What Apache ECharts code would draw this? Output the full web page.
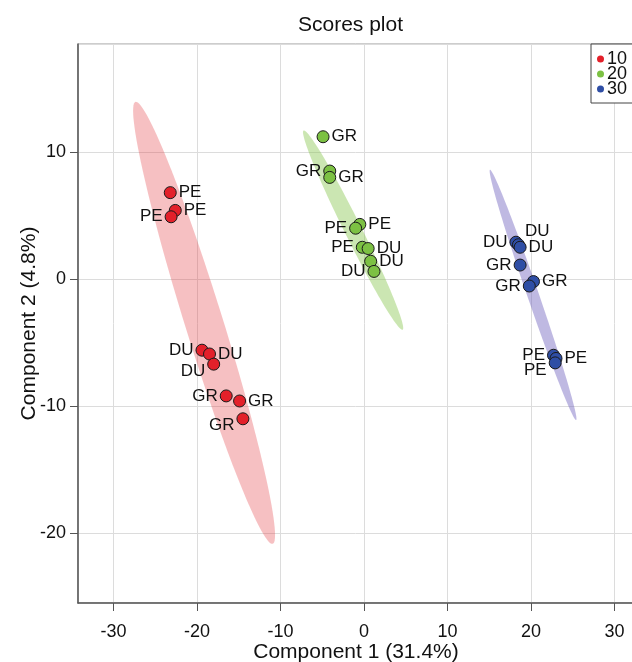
<!DOCTYPE html>
<html>
<head>
<meta charset="utf-8">
<script src="https://cdn.jsdelivr.net/npm/echarts@6/dist/echarts.min.js"></script>
<style>html,body{margin:0;padding:0;background:#fff}#c{width:632px;height:662px}</style>
</head>
<body>
<div id="c"></div>
<script>
// ---- data ----
const groups = ['10', '20', '30'];

const x10 = [-23.2, -22.6, -23.1, -19.4, -18.5, -18.0, -16.5, -14.9, -14.5];
const y10 = [6.8, 5.4, 4.9, -5.6, -5.9, -6.7, -9.2, -9.6, -11.0];
const names10 = ['PE', 'PE', 'PE', 'DU', 'DU', 'DU', 'GR', 'GR', 'GR'];
const side10 = ['right', 'right', 'left', 'left', 'right', 'leftBelow', 'left', 'right', 'leftBelow'];

const x20 = [-4.9, -4.1, -4.1, -0.5, -1.0, -0.2, 0.5, 0.8, 1.2];
const y20 = [11.2, 8.5, 8.0, 4.3, 4.0, 2.5, 2.4, 1.4, 0.6];
const names20 = ['GR', 'GR', 'GR', 'PE', 'PE', 'PE', 'DU', 'DU', 'DU'];
const side20 = ['right', 'left', 'right', 'right', 'left', 'left', 'right', 'right', 'left'];

const x30 = [18.2, 18.5, 18.7, 18.7, 20.3, 19.8, 22.7, 23.0, 22.9];
const y30 = [2.9, 2.7, 2.5, 1.1, -0.2, -0.55, -6.0, -6.25, -6.6];
const names30 = ['DU', 'DU', 'DU', 'GR', 'GR', 'GR', 'PE', 'PE', 'PE'];
const side30 = ['left', 'top', 'right', 'left', 'right', 'left', 'left', 'right', 'leftBelow'];

// confidence ellipses: [centerX, centerY, sdX, sdY, correlation]
const ellipse10 = [-19.15, -3.45, 8.5, 17.4, -0.96];
const ellipse20 = [-1.3, 3.85, 6.0, 7.85, -0.982];
const ellipse30 = [20.25, -1.25, 5.2, 9.85, -0.99];

const xTitle = 'Component 1 (31.4%)';
const yTitle = 'Component 2 (4.8%)';

// ---- style ----
const pointColors = ['#e3202a', '#7cc143', '#2f4ea5'];
const ellipseColors = ['rgba(226,60,66,0.32)', 'rgba(130,196,72,0.42)', 'rgba(112,100,190,0.45)'];
const FONT = 'Liberation Sans, Arial, sans-serif';

function labelFor(side) {
  const base = { show: true, color: '#111', fontSize: 17, fontFamily: FONT, distance: 2 };
  if (side === 'left') return Object.assign(base, { position: 'left' });
  if (side === 'right') return Object.assign(base, { position: 'right' });
  if (side === 'leftBelow') return Object.assign(base, { position: 'left', offset: [0, 7] });
  if (side === 'top') return Object.assign(base, { position: 'right', offset: [-2, -13] });
  return base;
}

function scatterSeries(name, xs, ys, names, sides, color) {
  return {
    name: name,
    type: 'scatter',
    symbol: 'circle',
    symbolSize: 12,
    z: 5,
    itemStyle: { color: color, borderColor: '#1a1a1a', borderWidth: 1, opacity: 1 },
    data: xs.map((x, i) => ({
      value: [x, ys[i]],
      name: names[i],
      label: Object.assign(labelFor(sides[i]), { formatter: names[i] })
    }))
  };
}

function ellipseSeries(name, params, color) {
  return {
    name: name,
    type: 'custom',
    z: 1,
    silent: true,
    data: [params],
    renderItem: function (p, api) {
      const cx = api.value(0), cy = api.value(1), sx = api.value(2), sy = api.value(3), r = api.value(4);
      const pts = [];
      const n = 120;
      for (let i = 0; i <= n; i++) {
        const t = 2 * Math.PI * i / n;
        const x = cx + sx * Math.cos(t);
        const y = cy + sy * (r * Math.cos(t) + Math.sqrt(1 - r * r) * Math.sin(t));
        pts.push(api.coord([x, y]));
      }
      return { type: 'polygon', shape: { points: pts }, style: { fill: color } };
    }
  };
}

const chart = echarts.init(document.getElementById('c'), null, { renderer: 'canvas' });
chart.setOption({
  animation: false,
  backgroundColor: '#fff',
  textStyle: { fontFamily: FONT },
  title: {
    text: 'Scores plot',
    left: 293, top: 10,
    textStyle: { fontSize: 21, fontWeight: 'normal', color: '#111', fontFamily: FONT }
  },
  legend: {
    data: groups,
    orient: 'vertical',
    left: 591, top: 44,
    icon: 'circle',
    itemWidth: 7, itemHeight: 7,
    itemGap: -3,
    padding: [6, 30, 5, 6],
    borderColor: '#444', borderWidth: 1,
    backgroundColor: '#fff',
    itemStyle: { borderWidth: 0 },
    textStyle: { fontSize: 18, lineHeight: 16, color: '#111', fontFamily: FONT, padding: [0, 0, 0, -2] }
  },
  grid: {
    left: 78, top: 44, right: -2, bottom: 59,
    containLabel: false,
    outerBoundsMode: 'none',
    show: true, borderColor: '#9a9a9a', borderWidth: 1
  },
  xAxis: {
    type: 'value',
    min: -34.25, max: 32.34,
    splitNumber: 7,
    name: xTitle,
    nameLocation: 'middle',
    nameGap: 39,
    nameMoveOverlap: false,
    nameTextStyle: { fontSize: 21, color: '#111', fontFamily: FONT },
    axisLine: { show: true, onZero: false, lineStyle: { color: '#555', width: 1.5 } },
    axisTick: { show: true, length: 8, lineStyle: { color: '#555' } },
    axisLabel: { fontSize: 18, color: '#111', margin: 20, showMinLabel: false, showMaxLabel: false, fontFamily: FONT },
    splitLine: { show: true, lineStyle: { color: '#dcdcdc', width: 1 } }
  },
  yAxis: {
    type: 'value',
    min: -25.5, max: 18.5,
    splitNumber: 5,
    name: yTitle,
    nameLocation: 'middle',
    nameGap: 38,
    nameMoveOverlap: false,
    nameTextStyle: { fontSize: 21, color: '#111', fontFamily: FONT },
    axisLine: { show: true, onZero: false, lineStyle: { color: '#555', width: 1.5 } },
    axisTick: { show: true, length: 8, lineStyle: { color: '#555' } },
    axisLabel: { fontSize: 18, color: '#111', margin: 12, showMinLabel: false, showMaxLabel: false, fontFamily: FONT },
    splitLine: { show: true, lineStyle: { color: '#dcdcdc', width: 1 } }
  },
  series: [
    ellipseSeries('e10', ellipse10, ellipseColors[0]),
    ellipseSeries('e20', ellipse20, ellipseColors[1]),
    ellipseSeries('e30', ellipse30, ellipseColors[2]),
    scatterSeries(groups[0], x10, y10, names10, side10, pointColors[0]),
    scatterSeries(groups[1], x20, y20, names20, side20, pointColors[1]),
    scatterSeries(groups[2], x30, y30, names30, side30, pointColors[2])
  ]
});
</script>
</body>
</html>
